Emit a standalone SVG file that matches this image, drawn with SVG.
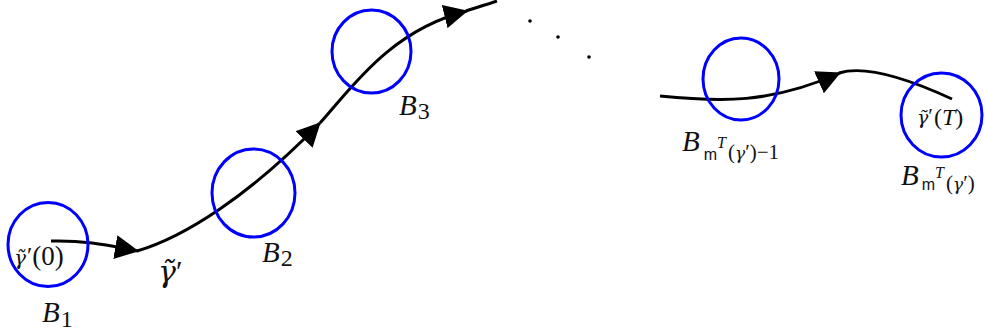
<svg xmlns="http://www.w3.org/2000/svg" width="985" height="336" viewBox="0 0 985 336">
<style>
.ball{fill:none;stroke:#0000ff;stroke-width:3}
.path{fill:none;stroke:#000;stroke-width:3}
.it{font-family:"Liberation Serif","DejaVu Serif",serif;font-style:italic;fill:#111}
.g{font-family:"DejaVu Serif","Liberation Serif",serif;font-style:italic;fill:#111}
.rm{font-family:"Liberation Serif","DejaVu Serif",serif;font-style:normal;fill:#111}
.sf{font-family:"Liberation Sans","DejaVu Sans",sans-serif;font-style:normal;fill:#111}
</style>
<defs>
<marker id="arr" viewBox="0 0 24 24" refX="23" refY="12" markerWidth="24" markerHeight="24" markerUnits="userSpaceOnUse" orient="auto">
<path d="M0,0 L24,12 L0,24 z" fill="#000"/>
</marker>
</defs>
<rect width="985" height="336" fill="#fff"/>
<g id="connectors">
<path class="path" d="M51,241 C90,240 115,247 138,251" marker-end="url(#arr)"/>
<path class="path" d="M137,251 C185,237 250,195 320,123" marker-end="url(#arr)"/>
<path class="path" d="M320,123 C350,90 390,30 467,11" marker-end="url(#arr)"/>
<path class="path" d="M466,11 C478,7 488,4 497,1"/>
<path class="path" d="M660,96 C720,102 770,104 840,73" marker-end="url(#arr)"/>
<path class="path" d="M839,73 C855,68 885,68 952,99"/>
</g>
<g id="dots" fill="#000">
<circle cx="530" cy="21" r="1.8"/>
<circle cx="558" cy="37" r="1.8"/>
<circle cx="589" cy="57" r="1.8"/>
</g>
<g id="B1">
<ellipse class="ball" cx="48" cy="244.5" rx="40" ry="42"/>
<text class="g" x="14" y="265" font-size="20">γ̃<tspan class="rm" font-size="24" dx="1" dy="-2">′</tspan><tspan class="rm" font-size="27" dy="2">(0)</tspan></text>
<text class="it" x="42" y="322" font-size="29">B<tspan class="rm" font-size="24" dx="1" dy="5">1</tspan></text>
</g>
<g id="gamma-label">
<text class="g" x="158" y="282" font-size="30">γ̃<tspan class="rm" dy="-1">′</tspan></text>
</g>
<g id="B2">
<ellipse class="ball" cx="253.5" cy="193" rx="41.5" ry="44"/>
<text class="it" x="262" y="262" font-size="29">B<tspan class="rm" font-size="24" dx="1" dy="4">2</tspan></text>
</g>
<g id="B3">
<ellipse class="ball" cx="371.5" cy="51.5" rx="39.5" ry="41.5"/>
<text class="it" x="399" y="115" font-size="29">B<tspan class="rm" font-size="24" dx="1" dy="4">3</tspan></text>
</g>
<g id="Bm1">
<ellipse class="ball" cx="741" cy="79" rx="38" ry="41"/>
<text class="it" x="682" y="151" font-size="29">B<tspan class="sf" font-size="16" dx="4" dy="9">m</tspan><tspan class="it" font-size="16" dx="0" dy="-12">T</tspan><tspan class="rm" font-size="21" dx="2" dy="11">(<tspan class="g" font-size="17">γ</tspan>′)−1</tspan></text>
</g>
<g id="BT">
<ellipse class="ball" cx="941.5" cy="115" rx="40.5" ry="42"/>
<text class="g" x="917" y="124" font-size="19">γ̃<tspan class="rm" font-size="21" dy="-1">′</tspan><tspan class="rm" font-size="24" dx="1" dy="2">(<tspan class="it">T</tspan>)</tspan></text>
<text class="it" x="901" y="185" font-size="29">B<tspan class="sf" font-size="16" dx="3" dy="5">m</tspan><tspan class="it" font-size="16" dx="0" dy="-12">T</tspan><tspan class="rm" font-size="21" dx="2" dy="12">(<tspan class="g" font-size="17">γ</tspan>′)</tspan></text>
</g>
</svg>
